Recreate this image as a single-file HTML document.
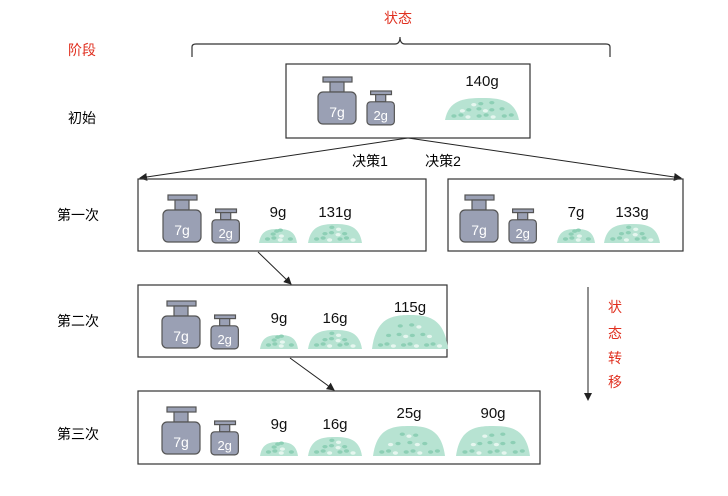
<!DOCTYPE html>
<html><head><meta charset="utf-8"><style>
body{margin:0;background:#fff;}
svg{display:block;font-family:"Liberation Sans","Noto Sans CJK SC",sans-serif;}
</style></head><body>
<svg id="s" width="728" height="496" viewBox="0 0 728 496" xmlns="http://www.w3.org/2000/svg">
<defs><marker id="ah" markerWidth="8" markerHeight="8" refX="7" refY="4" orient="auto"><path d="M0,0 L8,4 L0,8 z" fill="#222"/></marker></defs>
<text x="398" y="23" font-size="14" fill="#e03020" text-anchor="middle">状态</text>
<text x="82" y="55" font-size="14" fill="#e03020" text-anchor="middle">阶段</text>
<path d="M192,57 L192,47 Q192,44 196,44 L395,44 Q400,44 400,37 Q400,44 405,44 L606,44 Q610,44 610,47 L610,57" fill="none" stroke="#333" stroke-width="1.2"/>
<text x="82" y="123" font-size="14" text-anchor="middle">初始</text>
<text x="78" y="220" font-size="14" text-anchor="middle">第一次</text>
<text x="78" y="326" font-size="14" text-anchor="middle">第二次</text>
<text x="78" y="439" font-size="14" text-anchor="middle">第三次</text>
<line x1="408" y1="138" x2="140" y2="178" stroke="#222" marker-end="url(#ah)"/>
<line x1="408" y1="138" x2="681" y2="178" stroke="#222" marker-end="url(#ah)"/>
<text x="370" y="166" font-size="14" text-anchor="middle">决策1</text>
<text x="443" y="166" font-size="14" text-anchor="middle">决策2</text>
<line x1="258" y1="252" x2="291" y2="284" stroke="#222" marker-end="url(#ah)"/>
<line x1="290" y1="358" x2="334" y2="390" stroke="#222" marker-end="url(#ah)"/>
<line x1="588" y1="287" x2="588" y2="400" stroke="#222" marker-end="url(#ah)"/>
<g font-size="14" fill="#e03020" text-anchor="middle">
<text x="615" y="312">状</text><text x="615" y="338">态</text><text x="615" y="363">转</text><text x="615" y="387">移</text></g>
<g id="g"></g>
</svg>
<script>
const boxes=[[286,64,244,74],[138,179,288,72],[448,179,235,72],[138,285,309,72],[138,391,402,73]];
const boxNames=['box-initial','box-stage1-decision1','box-stage1-decision2','box-stage2','box-stage3'];
const weights=[[318,77],[163,195],[460,195],[162,301],[162,407]];
const pileLabels=['140g','9g','131g','7g','133g','9g','16g','115g','9g','16g','25g','90g'];
const pileBox=[0,1,1,2,2,3,3,3,4,4,4,4];
const pileX=[482,278,335,576,632,279,335,410,279,335,409,493];
const pileW=[74,38,54,38,56,38,54,76,38,54,72,74];
const pileH=[22,14,19,14,19,14,19,34,14,19,30,30];
const g=document.getElementById('g');
const NS='http://www.w3.org/2000/svg';
function el(t,a,p){const e=document.createElementNS(NS,t);for(const k in a)e.setAttribute(k,a[k]);(p||g).appendChild(e);return e;}
boxes.forEach((b,i)=>{const r=el('rect',{x:b[0],y:b[1],width:b[2],height:b[3],fill:'none',stroke:'#333','stroke-width':1.2});

});
function weight(x,y,s,lab,name,fs){const w=el('g',{});


const sg=el('g',{transform:`translate(${x},${y}) scale(${s})`},w);
el('rect',{x:5,y:0,width:29,height:5,fill:'#9aa0b4',stroke:'#555','stroke-width':1.2/s},sg);
el('rect',{x:12,y:5,width:14,height:10,fill:'#9aa0b4',stroke:'#555','stroke-width':1.2/s},sg);
el('rect',{x:0,y:15,width:38,height:32,rx:5,fill:'#9aa0b4',stroke:'#555','stroke-width':1.2/s},sg);
const t=el('text',{x:x+19*s,y:y+40*s,'font-size':fs,fill:'#fff','text-anchor':'middle'},w);t.textContent=lab;}
weights.forEach((p,i)=>{weight(p[0],p[1],1,'7g','weight-7g',14);weight(p[0]+49,p[1]+14,0.72,'2g','weight-2g',13);});
pileLabels.forEach((lab,i)=>{const b=boxes[pileBox[i]];const base=b[1]+b[3]-(i==0?18:8);
const cx=pileX[i],w=pileW[i],h=pileH[i];
const pg=el('g',{});


el('path',{d:`M${cx-w/2},${base} C${cx-w/2+w*0.05},${base-h*0.9} ${cx-w*0.25},${base-h} ${cx},${base-h} C${cx+w*0.25},${base-h} ${cx+w/2-w*0.05},${base-h*0.9} ${cx+w/2},${base} Z`,fill:'#b7e3d2'},pg);
let k=0;
for(let r=0;r<3;r++){const yy=base-3-r*h*0.28;const half=w/2*(1-r*0.28)-4;const n=Math.max(2,Math.round(half*2/8));
for(let c=0;c<n;c++){k++;const xx=cx-half+(c+0.5+((k*37)%10-5)/20)*(half*2/n);
el('ellipse',{cx:xx,cy:yy-((k*13)%3),rx:2.6,ry:1.7,fill:k%3?'#8dcfb5':'#e6f6ef'},pg);}}
const t=el('text',{x:cx,y:(i==0?b[1]+22:b[1]+(pileH[i]>25?27:38)),'font-size':15,'text-anchor':'middle',fill:'#111'});
t.textContent=lab;

});
</script>
</body></html>
